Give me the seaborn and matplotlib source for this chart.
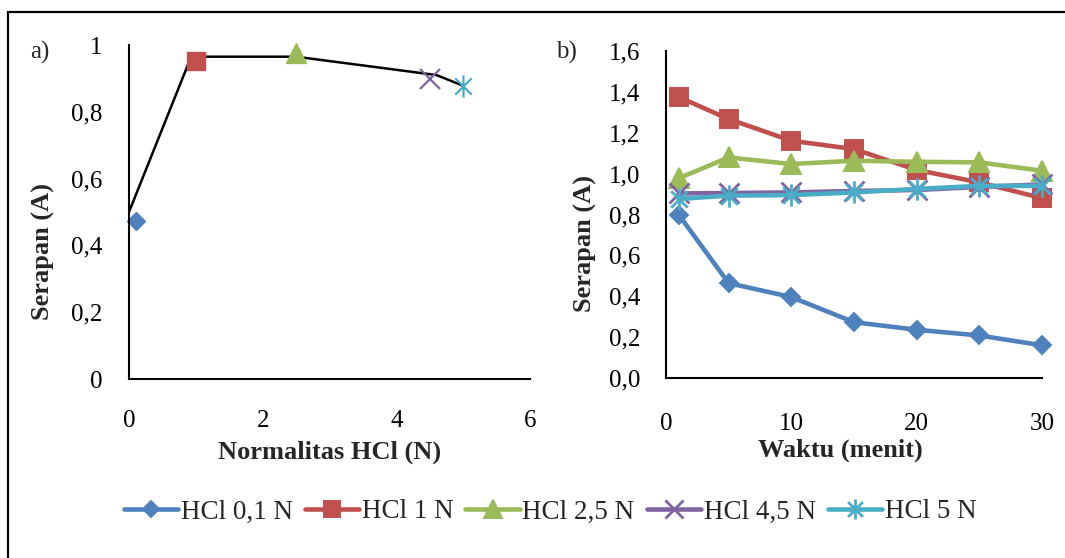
import matplotlib
matplotlib.use("Agg")
import matplotlib.pyplot as plt
from matplotlib.path import Path
from matplotlib.lines import Line2D
import seaborn as sns

# ---------------- data ----------------
series_names = ["HCl 0,1 N", "HCl 1 N", "HCl 2,5 N", "HCl 4,5 N", "HCl 5 N"]

# panel a
normalitas = [0.1, 1.0, 2.5, 4.5, 5.0]
serapan_a = [0.474, 0.953, 0.975, 0.897, 0.878]
trend_x = [0.0, 0.93, 2.5, 4.6, 5.0]
trend_y = [0.50, 0.965, 0.965, 0.91, 0.878]

# panel b
waktu = [1, 5, 10, 15, 20, 25, 30]
hcl_01 = [0.80, 0.464, 0.396, 0.273, 0.236, 0.208, 0.160]
hcl_1 = [1.375, 1.267, 1.161, 1.120, 1.018, 0.957, 0.880]
hcl_25 = [0.977, 1.079, 1.047, 1.063, 1.058, 1.055, 1.014]
hcl_45 = [0.903, 0.905, 0.908, 0.915, 0.920, 0.935, 0.947]
hcl_5 = [0.876, 0.892, 0.895, 0.908, 0.925, 0.940, 0.940]
serapan_b = [hcl_01, hcl_1, hcl_25, hcl_45, hcl_5]

yticks_a = [0, 0.2, 0.4, 0.6, 0.8, 1.0]
yticklabels_a = ["0", "0,2", "0,4", "0,6", "0,8", "1"]
xticks_a = [0, 2, 4, 6]
xticklabels_a = ["0", "2", "4", "6"]
yticks_b = [0, 0.2, 0.4, 0.6, 0.8, 1.0, 1.2, 1.4, 1.6]
yticklabels_b = ["0,0", "0,2", "0,4", "0,6", "0,8", "1,0", "1,2", "1,4", "1,6"]
xticks_b = [0, 10, 20, 30]
xticklabels_b = ["0", "10", "20", "30"]

# ---------------- style ----------------
sns.set_theme(style="white")
plt.rcParams["font.family"] = ["Liberation Serif", "DejaVu Serif"]

colors = ["#4F81BD", "#C0504D", "#9BBB59", "#8064A2", "#4BACC6"]
star = Path([(-1, -1), (1, 1), (-1, 1), (1, -1), (0, -1.35), (0, 1.35)],
            [Path.MOVETO, Path.LINETO] * 3)
markers = ["D", "s", "^", "x", star]
msizes = [9.5, 13, 14, 14, 16]
mews = [1, 1, 1, 1.6, 1.6]

W, H = 1065, 558
fig = plt.figure(figsize=(W / 100, H / 100), dpi=100)

def frac_box(l, r, t, b):
    return [l / W, 1 - b / H, (r - l) / W, (b - t) / H]

ax_a = fig.add_axes(frac_box(129, 530, 45, 379))
ax_b = fig.add_axes(frac_box(666, 1042, 51, 378))

# ---------------- panel a ----------------
sns.lineplot(x=trend_x, y=trend_y, ax=ax_a, color="black", linewidth=1.8,
             errorbar=None, sort=False)
for i in range(len(series_names)):
    sns.lineplot(x=[normalitas[i]], y=[serapan_a[i]], ax=ax_a, errorbar=None,
                 color=colors[i], marker=markers[i], markersize=msizes[i],
                 markeredgecolor=colors[i], markeredgewidth=mews[i],
                 linestyle="", clip_on=False)

ax_a.set_xlim(0, 6)
ax_a.set_ylim(0, 1)
ax_a.set_xticks(xticks_a)
ax_a.set_xticklabels(xticklabels_a)
ax_a.set_yticks(yticks_a)
ax_a.set_yticklabels(yticklabels_a)
ax_a.tick_params(axis="both", length=0, labelsize=18, colors="black")
ax_a.tick_params(axis="y", pad=19)
ax_a.tick_params(axis="x", pad=22.5)
for s in ["top", "right"]:
    ax_a.spines[s].set_visible(False)
for s in ["left", "bottom"]:
    ax_a.spines[s].set_color("black")
    ax_a.spines[s].set_linewidth(1.5)
ax_a.set_xlabel("Normalitas HCl (N)", fontsize=19, fontweight="bold", va="center")
ax_a.set_ylabel("Serapan (A)", fontsize=19, fontweight="bold", va="center")
ax_a.xaxis.set_label_coords(0.5, -0.219)
ax_a.yaxis.set_label_coords(-0.2145, 0.383)

# ---------------- panel b ----------------
for i, name in enumerate(series_names):
    sns.lineplot(x=waktu, y=serapan_b[i], ax=ax_b, errorbar=None, label=name,
                 color=colors[i], marker=markers[i], markersize=msizes[i],
                 markeredgecolor=colors[i], markeredgewidth=mews[i] + 0.4,
                 linewidth=3.3, clip_on=False)

ax_b.set_xlim(0, 30)
ax_b.set_ylim(0, 1.6)
ax_b.set_xticks(xticks_b)
ax_b.set_xticklabels(xticklabels_b)
ax_b.set_yticks(yticks_b)
ax_b.set_yticklabels(yticklabels_b)
ax_b.tick_params(axis="both", labelsize=18, colors="black", direction="out",
                 width=1.5)
ax_b.tick_params(axis="y", length=6.5, pad=12)
ax_b.tick_params(axis="x", length=5, pad=20)
for s in ["top", "right"]:
    ax_b.spines[s].set_visible(False)
for s in ["left", "bottom"]:
    ax_b.spines[s].set_color("black")
    ax_b.spines[s].set_linewidth(1.5)
ax_b.set_xlabel("Waktu (menit)", fontsize=19, fontweight="bold", va="center")
ax_b.set_ylabel("Serapan (A)", fontsize=19, fontweight="bold", va="center")
ax_b.xaxis.set_label_coords(0.463, -0.22)
ax_b.yaxis.set_label_coords(-0.215, 0.41)

handles, labels = ax_b.get_legend_handles_labels()
if ax_b.get_legend() is not None:
    ax_b.get_legend().remove()
fig.legend(handles, labels, loc="center", bbox_to_anchor=(550 / W, 1 - 512 / H),
           ncol=5, frameon=False, fontsize=19.5, handlelength=2.0,
           handletextpad=0.1, columnspacing=0.45, markerscale=0.9)

# panel letters
fig.text(40 / W, 1 - 52 / H, "a)", fontsize=18, ha="center", va="center")
fig.text(566 / W, 1 - 52 / H, "b)", fontsize=18, ha="center", va="center")

# outer frame (top and left edges)
fig.add_artist(Line2D([7.5 / W, 1], [1 - 12 / H, 1 - 12 / H],
                      transform=fig.transFigure, color="black", linewidth=1.6))
fig.add_artist(Line2D([7.5 / W, 7.5 / W], [0, 1 - 12 / H],
                      transform=fig.transFigure, color="black", linewidth=1.6))

fig.savefig("out.png", dpi=100)
